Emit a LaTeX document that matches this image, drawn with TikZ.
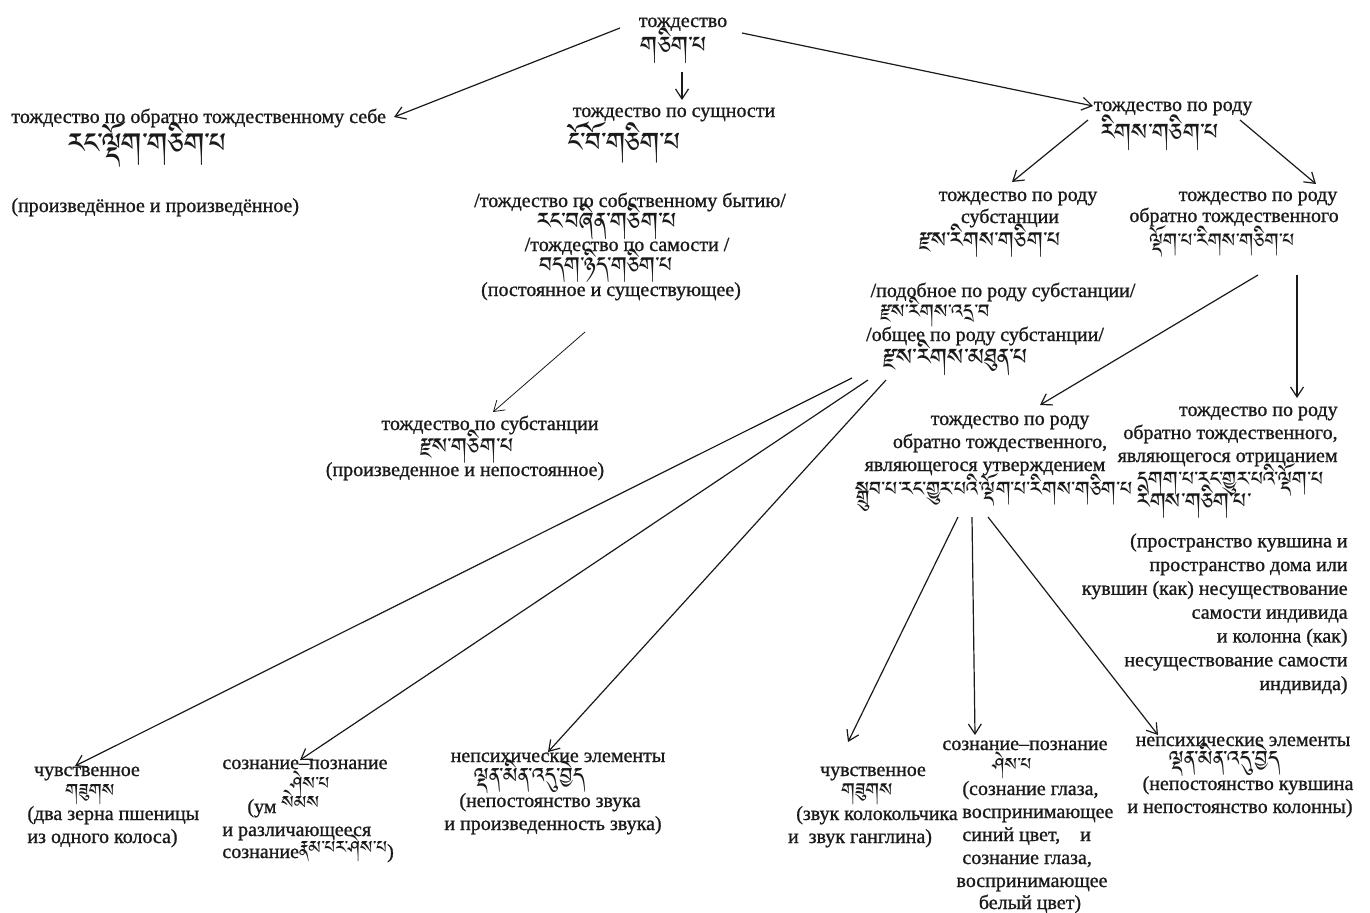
\documentclass[tikz,border=0pt]{standalone}
\usepackage{fontspec}
\setmainfont{Liberation Serif}[FakeBold=1]
\IfFontExistsTF{Jomolhari}{\newfontfamily\tibfont[Script=Tibetan]{Jomolhari}}{%
 \IfFontExistsTF{Tibetan Machine Uni}{\newfontfamily\tibfont[Script=Tibetan]{Tibetan Machine Uni}}{%
  \IfFontExistsTF{Noto Serif Tibetan}{\newfontfamily\tibfont[Script=Tibetan]{Noto Serif Tibetan}}{%
   \newfontfamily\tibfont{DejaVu Sans}}}}
\usetikzlibrary{arrows.meta}
\definecolor{ink}{HTML}{1A1A1A}
\newcommand\tbt[1]{{\tibfont\fontsize{11.5}{13}\selectfont #1}}
\tikzset{
 ru/.style={inner sep=0pt, anchor=base, font=\fontsize{10}{12}\selectfont, text=ink},
 ruL/.style={ru, anchor=base west},
 ruR/.style={ru, anchor=base east},
 tb/.style={inner sep=0pt, anchor=base, font=\tibfont\fontsize{#1}{#1}\selectfont, text=ink},
 tb/.default=12,
 tbL/.style={tb=#1, anchor=base west},
 tbL/.default=12,
 arr/.style={-{Straight Barb[length=5pt,width=6.5pt]}, line width=0.6pt, draw=ink},
 thinarr/.style={arr, line width=0.4pt},
}
\begin{document}
\begin{tikzpicture}[x=0.5pt,y=-0.5pt]
\fill[white] (0,0) rectangle (1370,912);
\useasboundingbox (0,0) rectangle (1370,912);

% root
\node[ru] (r1) at (683,27) {тождество};
\node[tb=15] (r2) at (674,59) {གཅིག་པ};
% left branch
\node[ruL] (a1) at (11,123) {тождество по обратно тождественному себе};
\node[tbL=18] (a2) at (68,160) {རང་ལྡོག་གཅིག་པ};
\node[ruL] (a3) at (11,212) {(произведённое и произведённое)};
% middle branch
\node[ru] (b1) at (674,117) {тождество по сущности};
\node[tbL=17] (b2) at (568,158) {ངོ་བོ་གཅིག་པ};
\node[ru] (c1) at (630,207) {/тождество по собственному бытию/};
\node[tb=15] (c2) at (607,235) {རང་བཞིན་གཅིག་པ};
\node[ru] (c3) at (627,251) {/тождество по самости /};
\node[tb=14] (c4) at (606,278) {བདག་ཉིད་གཅིག་པ};
\node[ru] (c5) at (611,296) {(постоянное и существующее)};
% right branch
\node[ru] (d1) at (1173,111) {тождество по роду};
\node[tb=15] (d2) at (1160,146) {རིགས་གཅིག་པ};
\node[ru] (e1) at (1018,201) {тождество по роду};
\node[ru] (e2) at (1010,223) {субстанции};
\node[tb=14] (e3) at (990,253) {རྫས་རིགས་གཅིག་པ};
\node[ru] (f1) at (1258,201) {тождество по роду};
\node[ru] (f2) at (1234,222) {обратно тождественного};
\node[tb=12.5] (f3) at (1222,252) {ལྡོག་པ་རིགས་གཅིག་པ};
\node[ru] (g1) at (1003,297) {/подобное по роду субстанции/};
\node[tbL=12.5] (g2) at (880,323) {རྫས་རིགས་འདྲ་བ};
\node[ru] (g3) at (985,341) {/общее по роду субстанции/};
\node[tbL=15] (g4) at (883,371) {རྫས་རིགས་མཐུན་པ};
% substance
\node[ru] (h1) at (490,430) {тождество по субстанции};
\node[tb=14] (h2) at (467,459) {རྫས་གཅིག་པ};
\node[ru] (h3) at (465,476) {(произведенное и непостоянное)};
% affirmation
\node[ru] (i1) at (1010,425) {тождество по роду};
\node[ru] (i2) at (1000,448) {обратно тождественного,};
\node[ru] (i3) at (985,471) {являющегося утверждением};
\node[tbL=13] (i4) at (855,501) {སྒྲུབ་པ་རང་གྱུར་པའི་ལྡོག་པ་རིགས་གཅིག་པ};
% negation
\node[ruR] (j1) at (1338,416) {тождество по роду};
\node[ruR] (j2) at (1338,439) {обратно тождественного,};
\node[ruR] (j3) at (1338,462) {являющегося отрицанием};
\node[tbL=13] (j4) at (1137,491) {དགག་པ་རང་གྱུར་པའི་ལྡོག་པ};
\node[tbL=14] (j5) at (1137,514) {རིགས་གཅིག་པ་};
\node[ru, anchor=north east, align=right, font=\fontsize{10}{11.9}\selectfont] (j6) at (1348,533)
 {(пространство кувшина и\\пространство дома или\\кувшин (как) несуществование\\самости индивида\\и колонна (как)\\несуществование самости\\индивида)};
% bottom left groups
\node[ru] (k1) at (87,776) {чувственное};
\node[tb=11.5] (k2) at (90,801) {གཟུགས};
\node[ruL] (k3) at (27,820) {(два зерна пшеницы};
\node[ruL] (k4) at (27,843) {из одного колоса)};
\node[ru] (l1) at (305,769) {сознание–познание};
\node[tb=11.5] (l2) at (310,794) {ཤེས་པ};
\node[ruL] (l3) at (247,813) {(ум \tbt{སེམས}};
\node[ruL] (l4) at (222,836) {и различающееся};
\node[ruL] (l5) at (222,858) {сознание\tbt{རྣམ་པར་ཤེས་པ})};
\node[ru] (m1) at (558,762) {непсихические элементы};
\node[tb=13.5] (m2) at (530,788) {ལྡན་མིན་འདུ་བྱེད};
\node[ru] (m3) at (550,807) {(непостоянство звука};
\node[ru] (m4) at (553,830) {и произведенность звука)};
% bottom right groups
\node[ru] (n1) at (873,776) {чувственное};
\node[tb=12] (n2) at (867,801) {གཟུགས};
\node[ru] (n3) at (877,820) {(звук колокольчика};
\node[ru] (n4) at (860,843) {и\ \ звук ганглина)};
\node[ru] (o1) at (1025,750) {сознание–познание};
\node[tb=11.5] (o2) at (1012,775) {ཤེས་པ};
\node[ruL] (o3) at (962,795) {(сознание глаза,};
\node[ruL] (o4) at (962,818) {воспринимающее};
\node[ruL] (o5) at (962,841) {синий цвет,\ \ \ \ и};
\node[ruL] (o6) at (962,864) {сознание глаза,};
\node[ru] (o7) at (1032,887) {воспринимающее};
\node[ru] (o8) at (1030,909) {белый цвет)};
\node[ru] (p1) at (1243,746) {непсихические элементы};
\node[tb=13.5] (p2) at (1225,771) {ལྡན་མིན་འདུ་བྱེད};
\node[ru] (p3) at (1248,790) {(непостоянство кувшина};
\node[ru] (p4) at (1240,813) {и непостоянство колонны)};

% connector end points
\coordinate (s1) at (620,28);  \coordinate (t1) at (394,117);
\coordinate (s2) at (682,72);  \coordinate (t2) at (682,100);
\coordinate (s3) at (742,33);  \coordinate (t3) at (1093,106);
\coordinate (s4) at (1088,120); \coordinate (t4) at (1012,182);
\coordinate (s5) at (1240,120); \coordinate (t5) at (1316,184);
\coordinate (s6) at (1258,275); \coordinate (t6) at (1040,405);
\coordinate (s7) at (1297,275); \coordinate (t7) at (1297,398);
\coordinate (s8) at (852,378);  \coordinate (t8) at (75,766);
\coordinate (s9) at (868,380);  \coordinate (t9) at (300,760);
\coordinate (s10) at (886,380); \coordinate (t10) at (548,752);
\coordinate (s11) at (585,332); \coordinate (t11) at (493,412);
\coordinate (s12) at (958,517); \coordinate (t12) at (848,742);
\coordinate (s13) at (972,517); \coordinate (t13) at (975,735);
\coordinate (s14) at (988,517); \coordinate (t14) at (1158,735);

\draw[arr] (s1) -- (t1);
\draw[arr] (s2) -- (t2);
\draw[arr] (s3) -- (t3);
\draw[arr] (s4) -- (t4);
\draw[arr] (s5) -- (t5);
\draw[arr] (s6) -- (t6);
\draw[arr] (s7) -- (t7);
\draw[arr] (s8) -- (t8);
\draw[arr] (s9) -- (t9);
\draw[arr] (s10) -- (t10);
\draw[thinarr] (s11) -- (t11);
\draw[arr] (s12) -- (t12);
\draw[arr] (s13) -- (t13);
\draw[arr] (s14) -- (t14);
\end{tikzpicture}
\end{document}
